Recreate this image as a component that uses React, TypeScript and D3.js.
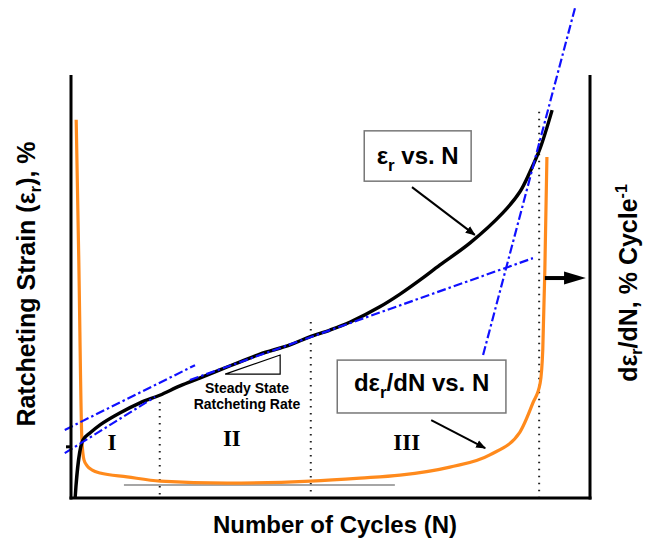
import React from "react";
import * as d3 from "d3";

// Ratcheting strain (%) against number of cycles
const cycles = [8, 23, 37, 56, 94, 133, 171, 210, 249, 287, 326, 364, 422, 460, 499, 538, 595, 634, 672, 711, 769, 832, 865, 884, 904, 927];
const strain = [0, 1.37, 1.54, 1.73, 2.01, 2.25, 2.43, 2.65, 2.84, 3.03, 3.22, 3.4, 3.62, 3.81, 3.97, 4.16, 4.52, 4.82, 5.15, 5.51, 6.03, 6.74, 7.24, 7.7, 8.27, 9.17];

// Ratcheting rate (right axis) against number of cycles
const rateCycles = [10, 15, 21, 25, 31, 41, 56, 108, 172, 301, 461, 557, 634, 730, 807, 865, 890, 904, 909, 913, 917];
const rate = [89.4, 56.3, 13.7, 9.0, 7.6, 6.6, 5.9, 5.0, 4.0, 3.5, 4.0, 4.7, 5.4, 7.3, 10.2, 15.6, 22.5, 27.2, 35.0, 53.9, 80.6];

// Dash-dot tangent lines: [N1, strain1] to [N2, strain2]
const tangentStart = [[-12, 1.61], [-12, 1.06], [229, 2.79], [794, 3.38]];
const tangentEnd = [[239, 3.14], [162, 2.39], [890, 5.67], [971, 11.58]];

// Stage boundaries (cycles) and their upper ends (strain)
const stageBounds = [171, 462, 902];
const stageBoundTops = [2.27, 4.16, 9.13];
const stageNames = ["I", "II", "III"];
const stageLabelN = [79, 310, 647];
const stageLabelS = [1.13, 1.23, 1.13];

// Minimum-rate reference line
const minRate = 3.07;
const minRateSpan = [102, 624];

const W = 649;
const H = 552;
const SANS = "'Liberation Sans', Arial, Helvetica, sans-serif";
const SERIF = "'Liberation Serif', 'Times New Roman', serif";
const ORANGE = "#FF8A1C";
const BLUE = "#1010FF";

export default function App() {
  const x = d3.scaleLinear().domain([0, 1000]).range([71, 590]);
  const yS = d3.scaleLinear().domain([0, 10]).range([498, 75]);
  const yR = d3.scaleLinear().domain([0, 100]).range([498, 75]);

  const strainLine = d3
    .line<number>()
    .x((_, i) => x(cycles[i]))
    .y((d) => yS(d))
    .curve(d3.curveCatmullRom.alpha(0.5));

  const rateLine = d3
    .line<number>()
    .x((_, i) => x(rateCycles[i]))
    .y((d) => yR(d))
    .curve(d3.curveMonotoneX);

  const tri: [number, number][] = [
    [297, 2.93],
    [403, 3.38],
    [403, 2.93],
  ];

  return (
    <svg
      width={W}
      height={H}
      style={{ position: "absolute", left: 0, top: 0, background: "#fff" }}
    >
      <defs>
        <marker id="ah" viewBox="0 0 10 10" refX="9" refY="5" markerWidth="5" markerHeight="5" orient="auto">
          <path d="M0,1 L10,5 L0,9 Z" fill="#000" />
        </marker>
      </defs>

      {/* stage boundaries */}
      {stageBounds.map((n, i) => (
        <line
          key={"sb" + i}
          x1={x(n)}
          x2={x(n)}
          y1={yS(stageBoundTops[i])}
          y2={yS(0)}
          stroke="#222"
          strokeWidth={2}
          strokeDasharray="1.5,5.5"
        />
      ))}

      {/* minimum rate reference */}
      <line
        x1={x(minRateSpan[0])}
        x2={x(minRateSpan[1])}
        y1={yR(minRate)}
        y2={yR(minRate)}
        stroke="#888"
        strokeWidth={1.5}
      />

      {/* rate curve */}
      <path d={rateLine(rate) || ""} fill="none" stroke={ORANGE} strokeWidth={3.2} strokeLinejoin="round" />

      {/* strain curve */}
      <path d={strainLine(strain) || ""} fill="none" stroke="#000" strokeWidth={3.4} strokeLinejoin="round" />

      {/* tangents */}
      {tangentStart.map((s, i) => (
        <line
          key={"tg" + i}
          x1={x(s[0])}
          y1={yS(s[1])}
          x2={x(tangentEnd[i][0])}
          y2={yS(tangentEnd[i][1])}
          stroke={BLUE}
          strokeWidth={2.2}
          strokeDasharray="9,3,2.5,3"
        />
      ))}

      {/* axes frame */}
      <line x1={x(0)} x2={x(0)} y1={yS(10)} y2={yS(0) + 1.5} stroke="#000" strokeWidth={3} />
      <line x1={x(0) - 1.5} x2={x(1000) + 1.5} y1={yS(0)} y2={yS(0)} stroke="#000" strokeWidth={3} />
      <line x1={x(1000)} x2={x(1000)} y1={yS(10)} y2={yS(0) + 1.5} stroke="#000" strokeWidth={3} />
      <line x1={x(0) - 5} x2={x(0)} y1={yS(1.21)} y2={yS(1.21)} stroke="#000" strokeWidth={3} />

      {/* stage labels */}
      {stageNames.map((s, i) => (
        <text
          key={"st" + i}
          x={x(stageLabelN[i])}
          y={yS(stageLabelS[i])}
          textAnchor="middle"
          fontFamily={SERIF}
          fontWeight="bold"
          fontSize={23}
        >
          {s}
        </text>
      ))}

      {/* steady state slope triangle */}
      <polygon
        points={tri.map((p) => `${x(p[0])},${yS(p[1])}`).join(" ")}
        fill="none"
        stroke="#000"
        strokeWidth={1.2}
      />
      <text x={x(339)} y={yS(2.48)} textAnchor="middle" fontFamily={SANS} fontWeight="bold" fontSize={14}>
        Steady State
      </text>
      <text x={x(339)} y={yS(2.1)} textAnchor="middle" fontFamily={SANS} fontWeight="bold" fontSize={14}>
        Ratcheting Rate
      </text>

      {/* strain curve callout */}
      <rect
        x={x(565)}
        y={yS(8.68)}
        width={x(771) - x(565)}
        height={yS(7.49) - yS(8.68)}
        fill="#fff"
        stroke="#777"
        strokeWidth={1.5}
      />
      <text x={(x(565) + x(771)) / 2} y={yS(7.9)} textAnchor="middle" fontFamily={SANS} fontWeight="bold" fontSize={24}>
        ε<tspan fontSize={17} dy={7}>r</tspan>
        <tspan dy={-7}> vs. N</tspan>
      </text>
      <line
        x1={x(657)}
        y1={yS(7.35)}
        x2={x(778)}
        y2={yS(6.22)}
        stroke="#000"
        strokeWidth={2}
        markerEnd="url(#ah)"
      />

      {/* rate curve callout */}
      <rect
        x={x(513)}
        y={yR(32.6)}
        width={x(838) - x(513)}
        height={yR(20.1) - yR(32.6)}
        fill="#fff"
        stroke="#777"
        strokeWidth={1.5}
      />
      <text x={(x(513) + x(838)) / 2} y={yR(25.3)} textAnchor="middle" fontFamily={SANS} fontWeight="bold" fontSize={24}>
        dε<tspan fontSize={17} dy={7}>r</tspan>
        <tspan dy={-7}>/dN vs. N</tspan>
      </text>
      <line
        x1={x(694)}
        y1={yR(18.4)}
        x2={x(798)}
        y2={yR(11.8)}
        stroke="#000"
        strokeWidth={2}
        markerEnd="url(#ah)"
      />

      {/* right axis pointer */}
      <line x1={x(913)} x2={x(960)} y1={yR(52)} y2={yR(52)} stroke="#000" strokeWidth={4} />
      <path
        d={`M${x(950)},${yR(52) - 6.5} L${x(992)},${yR(52)} L${x(950)},${yR(52) + 6.5} Z`}
        fill="#000"
      />

      {/* axis titles */}
      <text x={335} y={533} textAnchor="middle" fontFamily={SANS} fontWeight="bold" fontSize={24}>
        Number of Cycles (N)
      </text>
      <text
        transform="translate(35,284) rotate(-90)"
        textAnchor="middle"
        fontFamily={SANS}
        fontWeight="bold"
        fontSize={25}
      >
        Ratcheting Strain (ε<tspan fontSize={17} dy={6}>r</tspan>
        <tspan dy={-6}>), %</tspan>
      </text>
      <text
        transform="translate(637,283) rotate(-90)"
        textAnchor="middle"
        fontFamily={SANS}
        fontWeight="bold"
        fontSize={25}
      >
        dε<tspan fontSize={16} dy={5}>r</tspan>
        <tspan dy={-5}>/dN, % Cycle</tspan>
        <tspan fontSize={16} dy={-10}>-1</tspan>
      </text>
    </svg>
  );
}
